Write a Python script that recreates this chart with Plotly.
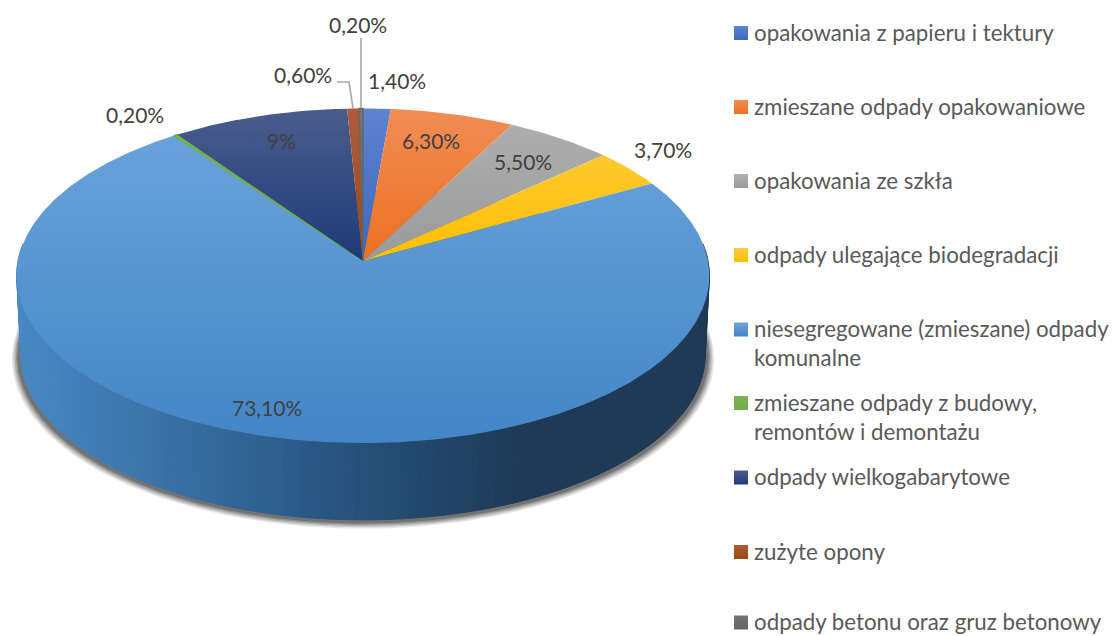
import numpy as np
import plotly.graph_objects as go

categories = ["opakowania z papieru i tektury", "zmieszane odpady opakowaniowe", "opakowania ze szkła",
              "odpady ulegające biodegradacji", "niesegregowane (zmieszane) odpady<br>komunalne",
              "zmieszane odpady z budowy,<br>remontów i demontażu", "odpady wielkogabarytowe",
              "zużyte opony", "odpady betonu oraz gruz betonowy"]
values = [1.4, 6.3, 5.5, 3.7, 73.1, 0.2, 9.0, 0.6, 0.2]
value_labels = ["1,40%", "6,30%", "5,50%", "3,70%", "73,10%", "0,20%", "9%", "0,60%", "0,20%"]

# styling and layout
top_colors = ["#5f83cf", "#f18d55", "#b0b0b0", "#fdcb45", "#6ca5dc", "#7cb356", "#4a5d8c", "#ad5b3e", "#747474"]
low_colors = ["#3a68bf", "#ed7021", "#9a9a9a", "#ffc000", "#4385c6", "#70ad47", "#1e3a78", "#9e480e", "#636363"]
label_xy = [(397, 80), (431, 140), (523, 161), (663, 149), (267, 407), (135, 114), (281, 140), (303, 74), (358, 24)]
legend_y = [33, 107, 181, 255, 329.5, 403, 477.5, 552, 622.5]
legend_text_y = [32, 106, 180, 254, 342.5, 416.5, 476.5, 551, 621.2]
wall_stops = [(16, (72, 137, 196)), (150, (60, 116, 168)), (300, (42, 90, 136)), (420, (36, 72, 108)),
              (520, (30, 58, 86)), (710, (30, 58, 86))]

CX, CY, K, B, A = 363.0, 261.0, 345.0, 166.0, 0.0882
WALL_SCALE, WALL_DY = 0.988, 79.0


def project(theta):
    d = 1 + A * np.cos(theta)
    return CX + K * np.sin(theta) / d, CY - B * np.cos(theta) / d


def project_low(theta):
    x, y = project(theta)
    return CX + (x - CX) * WALL_SCALE, CY + (y - CY) * WALL_SCALE + WALL_DY


fig = go.Figure()
full = np.linspace(0, 2 * np.pi, 361)

# blurred shadow under the disc
lx, ly = project_low(full)
for s, dy, alpha in [(1.026, 4.5, 0.12), (1.022, 3.8, 0.16), (1.018, 3.2, 0.20), (1.014, 2.6, 0.26), (1.010, 2.0, 0.34)]:
    fig.add_trace(go.Scatter(x=CX + (lx - CX) * s, y=354 + (ly - 354) * s + dy, mode="lines", fill="toself",
                             fillcolor=f"rgba(60,60,60,{alpha})", line=dict(width=0),
                             hoverinfo="skip", showlegend=False))

# side wall: vertical strips with a horizontal shade
cum = np.cumsum([0] + values)
angles = cum / cum[-1] * 2 * np.pi
t = np.linspace(np.radians(84), np.radians(276), 141)
sx = [p[0] for p in wall_stops]
for a0, a1 in zip(t[:-1], t[1:]):
    tx, ty = project(np.array([a0, a1]))
    bx, by = project_low(np.array([a1, a0]))
    m = (tx.mean() + bx.mean()) / 2
    col = [np.interp(m, sx, [p[1][i] for p in wall_stops]) for i in range(3)]
    c = f"rgb({col[0]:.0f},{col[1]:.0f},{col[2]:.0f})"
    fig.add_trace(go.Scatter(x=np.r_[tx, bx], y=np.r_[ty, by], mode="lines", fill="toself", fillcolor=c,
                             line=dict(width=1, color=c), hoverinfo="skip", showlegend=False))

# top face
stops = [(108, 261)] * 4 + [(108, 443), (108, 261), (108, 261), (108, 261), (108, 261)]
for i, name in enumerate(categories):
    th = np.linspace(angles[i], angles[i + 1], max(3, int(values[i] * 8)))
    px, py = project(th)
    thin = values[i] < 0.5
    fig.add_trace(go.Scatter(
        x=np.r_[CX, px, CX], y=np.r_[CY, py, CY], mode="lines", fill="toself",
        line=dict(width=1.2 if thin else 0, color=low_colors[i]), name=name.replace("<br>", " "),
        fillgradient=dict(type="vertical", start=stops[i][0], stop=stops[i][1],
                          colorscale=[[0, top_colors[i]], [1, low_colors[i]]]),
        showlegend=False))

# leader lines from the outer labels to the thinnest slices
for ix in (7, 8):
    mid = (angles[ix] + angles[ix + 1]) / 2
    ex, ey = project(np.array([mid]))
    if ix == 8:
        xs, ys = [361, 361], [38, 108]
    else:
        xs, ys = [337, 349, ex[0]], [82, 82, ey[0]]
    fig.add_trace(go.Scatter(x=xs, y=ys, mode="lines", line=dict(color="#a6a6a6", width=1.6),
                             hoverinfo="skip", showlegend=False))

# legend swatches
for i in range(len(categories)):
    fig.add_trace(go.Scatter(x=[741], y=[legend_y[i]], mode="markers", hoverinfo="skip", showlegend=False,
                             marker=dict(symbol="square", size=14, color=top_colors[i], line=dict(width=0),
                                         gradient=dict(type="vertical", color=low_colors[i]))))

ann = []
for i, txt in enumerate(value_labels):
    ann.append(dict(x=label_xy[i][0], y=label_xy[i][1], text=txt, showarrow=False,
                    font=dict(family="Lato", size=21, color="#404040"), xanchor="center", yanchor="middle"))
for i, txt in enumerate(categories):
    ann.append(dict(x=751.5, y=legend_text_y[i], text=txt, showarrow=False, align="left",
                    font=dict(family="Lato", size=22.3, color="#595959"), xanchor="left", yanchor="middle"))

fig.update_layout(
    width=1116, height=636, margin=dict(l=0, r=0, t=0, b=0), paper_bgcolor="white", plot_bgcolor="white",
    xaxis=dict(range=[0, 1116], visible=False, fixedrange=True),
    yaxis=dict(range=[636, 0], visible=False, fixedrange=True),
    annotations=ann, showlegend=False,
)
fig.write_html("out.html", config={"displayModeBar": False},
               post_script="document.body.style.margin='0';document.body.style.overflow='hidden';")
